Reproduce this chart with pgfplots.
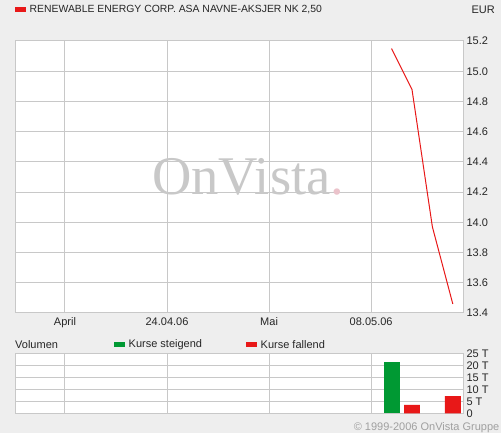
\documentclass[border=0pt]{standalone}
\usepackage{fontspec}
\setmainfont{Liberation Sans}
\newfontfamily\wmfont{Liberation Serif}
\usepackage{pgfplots}
\pgfplotsset{compat=1.18}
\definecolor{bgc}{HTML}{EEEEEE}
\definecolor{gridc}{HTML}{C8C8C8}
\definecolor{redc}{HTML}{E81818}
\definecolor{greenc}{HTML}{009933}
\definecolor{wmc}{HTML}{C8C8C8}
\definecolor{wmdot}{HTML}{EBC3CB}
\definecolor{copyc}{HTML}{A0A0A0}
\begin{document}
\begin{tikzpicture}[x=1pt,y=1pt]
\fill[bgc] (0,0) rectangle (501,433);
\pgfplotsset{
  chartbase/.style={
    scale only axis, width=447pt,
    xmin=-17.4, xmax=4.5,
    axis background/.style={fill=white},
    axis line style={draw=gridc, line width=1pt},
    grid=major, grid style={draw=gridc, line width=1pt},
    major tick length=0pt,
    xtick={-15,-10,-5,0},
    yticklabel pos=right,
    ticklabel style={font=\fontsize{11}{13}\selectfont, text=black!85},
    /pgf/number format/assume math mode=true,
  }
}
\begin{axis}[chartbase,
  at={(16pt,120pt)}, anchor=south west, height=272pt,
  ymin=13.4, ymax=15.2,
  xticklabels={April,24.04.06,Mai,08.05.06},
  xticklabel style={anchor=base, yshift=-12.8pt},
  ytick={13.4,13.6,13.8,14.0,14.2,14.4,14.6,14.8,15.0,15.2},
  yticklabel style={/pgf/number format/.cd, fixed, fixed zerofill, precision=1, assume math mode=true},
]
\addplot[draw=redc, line width=1pt] coordinates {(1,15.15) (2,14.88) (3,13.97) (4,13.46)};
\end{axis}
\node[anchor=base west, inner sep=0, text=wmc, font=\wmfont\fontsize{54.5}{60}\selectfont] (wm) at (152,238) {OnVista};
\node[anchor=base west, inner sep=0, text=wmdot, font=\wmfont\fontsize{54.5}{60}\selectfont] at (wm.base east) {.};
\begin{axis}[chartbase,
  at={(16pt,19.7pt)}, anchor=south west, height=60pt,
  ymin=0, ymax=25,
  xticklabels={},
  ytick={0,5,10,15,20,25},
  yticklabels={0,5 T,10 T,15 T,20 T,25 T},
]
\addplot[ybar, bar width=0.78, bar shift=0pt, fill=greenc, draw=none] coordinates {(1,21.4)};
\addplot[ybar, bar width=0.78, bar shift=0pt, fill=redc, draw=none] coordinates {(2,3.5) (4,7.2)};
\end{axis}
% header
\fill[redc] (15,420.5) rectangle (26,425.5);
\node[anchor=west, inner sep=0, font=\fontsize{10.4}{13}\selectfont, text=black!85] at (29.5,423) {RENEWABLE ENERGY CORP. ASA NAVNE-AKSJER NK 2,50};
\node[anchor=east, inner sep=0, font=\fontsize{11}{13}\selectfont, text=black!85] at (495,423) {EUR};
% volume legend row
\node[anchor=west, inner sep=0, font=\fontsize{11}{13}\selectfont, text=black!85] at (15,88.5) {Volumen};
\fill[greenc] (114,86) rectangle (125,91);
\node[anchor=west, inner sep=0, font=\fontsize{11}{13}\selectfont, text=black!85] at (128.5,88.5) {Kurse steigend};
\fill[redc] (246,86) rectangle (257,91);
\node[anchor=west, inner sep=0, font=\fontsize{11}{13}\selectfont, text=black!85] at (260.5,88.5) {Kurse fallend};
% copyright
\node[anchor=east, inner sep=0, font=\fontsize{11}{13}\selectfont, text=copyc] at (499.5,5) {© 1999-2006 OnVista Gruppe};
\end{tikzpicture}
\end{document}
